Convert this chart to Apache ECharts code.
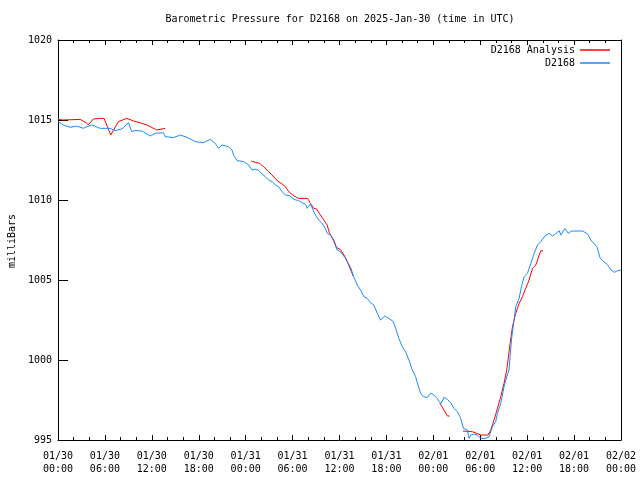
<!DOCTYPE html>
<html>
<head>
<meta charset="utf-8">
<script src="https://cdn.jsdelivr.net/npm/echarts@6/dist/echarts.min.js"></script>
<style>html,body{margin:0;padding:0;background:#fff}#c{width:640px;height:480px}</style>
</head>
<body>
<div id="c"></div>
<script>
// hours since 2025-01-30 00:00 UTC
const xTickLabels = ['01/30\n00:00','01/30\n06:00','01/30\n12:00','01/30\n18:00','01/31\n00:00','01/31\n06:00','01/31\n12:00','01/31\n18:00','02/01\n00:00','02/01\n06:00','02/01\n12:00','02/01\n18:00','02/02\n00:00'];
const yTicks = [995, 1000, 1005, 1010, 1015, 1020];
const seriesNames = ['D2168 Analysis', 'D2168'];

// D2168 Analysis (null = no data)
const analysis = [
[0,1015.04],[0.68,1015.0],[2.82,1015.04],[3.59,1014.83],[3.88,1014.69],[4.52,1015.06],[5.38,1015.1],[5.89,1015.1],[6.75,1014.06],[7.72,1014.9],[8.80,1015.1],[9.65,1014.94],[10.50,1014.83],[11.36,1014.69],[12.64,1014.375],[13.71,1014.48],
[19,null],
[24.72,1012.44],[25.24,1012.35],[25.79,1012.29],[26.30,1012.08],[26.94,1011.77],[27.38,1011.56],[28.02,1011.21],[28.66,1011.0],[29.08,1010.83],[29.50,1010.52],[30.14,1010.27],[30.78,1010.1],[31.94,1010.1],[32.28,1009.79],[32.71,1009.48],[33.05,1009.44],[33.56,1009.06],[33.99,1008.75],[34.42,1008.44],[34.72,1007.92],[35.27,1007.5],[35.61,1007.04],[36.13,1006.9],[36.77,1006.4],[37.75,1005.25],
[43,null],
[48.85,997.29],[49.36,996.875],[49.80,996.5],[50.09,996.5],
[51,null],
[51.79,995.56],[53.0,995.52],[53.20,995.42],[54.06,995.31],[55.0,995.31],[55.34,995.625],[55.77,996.25],[56.20,996.98],[56.62,997.71],[57.04,998.54],[57.39,999.375],[57.82,1001.04],[58.12,1002.08],[58.54,1002.92],[58.97,1003.54],[59.40,1003.96],[59.82,1004.48],[60.25,1005.0],[60.68,1005.73],[61.11,1005.94],[61.54,1006.56],[61.75,1006.83],[62.04,1006.83]
];

// D2168 observed
const observed = [
[0,1014.9],[0.68,1014.69],[1.54,1014.54],[2.4,1014.62],[3.24,1014.48],[3.68,1014.58],[4.32,1014.69],[5.38,1014.48],[6.66,1014.48],[7.30,1014.33],[8.2,1014.45],[9.01,1014.83],[9.44,1014.27],[9.86,1014.35],[10.8,1014.3],[11.79,1014.0],[12.43,1014.17],[13.49,1014.2],[13.71,1013.96],[14.77,1013.9],[15.63,1014.06],[16.49,1013.92],[17.55,1013.65],[18.61,1013.58],[19.47,1013.79],[20.11,1013.54],[20.54,1013.23],[20.97,1013.44],[21.82,1013.33],[22.25,1013.125],[22.46,1012.8],[22.89,1012.46],[23.74,1012.4],[24.38,1012.19],[24.81,1011.875],[25.24,1011.92],[25.66,1011.85],[26.10,1011.625],[26.52,1011.46],[26.94,1011.25],[27.38,1011.15],[27.80,1010.94],[28.22,1010.83],[28.66,1010.52],[29.08,1010.31],[29.72,1010.25],[30.14,1010.04],[30.78,1009.96],[31.22,1009.83],[31.64,1009.75],[31.86,1009.48],[32.28,1009.75],[32.92,1009.06],[33.35,1008.75],[33.78,1008.54],[34.20,1008.23],[34.42,1007.92],[34.85,1007.81],[35.27,1007.4],[35.70,1006.875],[36.13,1006.77],[36.77,1006.35],[37.41,1005.8],[37.83,1005.2],[38.26,1004.69],[38.69,1004.375],[39.11,1003.96],[39.55,1003.85],[39.97,1003.58],[40.39,1003.44],[40.83,1002.92],[41.25,1002.5],[41.80,1002.75],[42.31,1002.6],[42.88,1002.4],[43.17,1002.0],[43.59,1001.35],[44.03,1000.83],[44.45,1000.52],[44.88,1000.0],[45.31,999.375],[45.73,998.96],[46.16,998.23],[46.38,997.92],[46.72,997.71],[47.23,997.65],[47.66,997.92],[48.08,997.81],[48.51,997.6],[48.72,997.4],[49.03,997.29],[49.36,997.67],[49.80,997.54],[50.22,997.33],[50.64,996.98],[51.08,996.77],[51.50,996.35],[51.85,995.73],[52.36,995.625],[52.56,995.1],[52.78,995.3],[53.20,995.375],[53.64,995.31],[54.06,995.1],[54.70,995.1],[55.12,995.2],[55.56,995.83],[55.98,996.15],[56.20,996.67],[56.62,997.29],[56.84,997.81],[57.04,998.33],[57.39,998.96],[57.68,999.375],[57.99,1001.25],[58.32,1002.5],[58.54,1003.33],[58.97,1003.85],[59.27,1004.58],[59.61,1005.2],[60.04,1005.42],[60.47,1006.04],[60.89,1006.67],[61.33,1007.19],[61.75,1007.4],[62.26,1007.75],[62.81,1007.92],[63.25,1007.75],[63.67,1007.9],[64.09,1008.08],[64.31,1007.81],[64.82,1008.23],[65.25,1007.92],[65.68,1008.06],[67.09,1008.06],[67.73,1007.875],[68.15,1007.5],[68.58,1007.25],[68.92,1007.08],[69.35,1006.35],[69.78,1006.15],[70.30,1005.94],[70.71,1005.625],[71.14,1005.48],[71.57,1005.58],[72,1005.625]
];

const FONT = '"DejaVu Sans Mono", "Liberation Mono", monospace';
const RED = '#ff0000', BLUE = '#1a8cff';
const BLACK = {color: '#000', width: 1};

const chart = echarts.init(document.getElementById('c'), null, {renderer: 'canvas'});

// x axes: frame lines + labels, then tick-only axes shifted into the plot so their outward ticks point inward
function xAx(pos, opts) {
  return Object.assign({
    type: 'value', min: 0, max: 72, interval: 6, position: pos,
    axisLine: {show: false}, axisTick: {show: false}, axisLabel: {show: false},
    minorTick: {show: false}, splitLine: {show: false}, minorSplitLine: {show: false}
  }, opts);
}
function yAx(pos, opts) {
  return Object.assign({
    type: 'value', min: yTicks[0], max: yTicks[yTicks.length - 1], interval: 5, position: pos,
    axisLine: {show: false}, axisTick: {show: false}, axisLabel: {show: false},
    splitLine: {show: false}
  }, opts);
}
const xAxes = [
  xAx('bottom', {axisLine: {show: true, onZero: false, lineStyle: BLACK},
    axisLabel: {show: true, margin: 10, fontFamily: FONT, fontSize: 10, color: '#000', lineHeight: 13,
      formatter: v => xTickLabels[Math.round(v / 6)] || ''}}),
  xAx('top', {axisLine: {show: true, onZero: false, lineStyle: BLACK}}),
  xAx('bottom', {offset: -5, axisTick: {show: true, length: 5, lineStyle: BLACK}}),
  xAx('bottom', {offset: -3, minorTick: {show: true, splitNumber: 3, length: 3, lineStyle: BLACK}}),
  xAx('top', {offset: -5, axisTick: {show: true, length: 5, lineStyle: BLACK}}),
  xAx('top', {offset: -3, minorTick: {show: true, splitNumber: 3, length: 3, lineStyle: BLACK}})
];
const yAxes = [
  yAx('left', {axisLine: {show: true, onZero: false, lineStyle: BLACK},
    axisLabel: {show: true, margin: 6, fontFamily: FONT, fontSize: 10, color: '#000', formatter: v => String(v)}}),
  yAx('right', {axisLine: {show: true, onZero: false, lineStyle: BLACK}}),
  yAx('left', {offset: -5, axisTick: {show: true, length: 5, lineStyle: BLACK}}),
  yAx('right', {offset: -5, axisTick: {show: true, length: 5, lineStyle: BLACK}})
];

chart.setOption({
  animation: false,
  backgroundColor: '#fff',
  grid: {left: 58, right: 19, top: 40, bottom: 40, containLabel: false},
  graphic: [
    {type: 'text', x: 340, y: 19, style: {text: 'Barometric Pressure for D2168 on 2025-Jan-30 (time in UTC)', font: '10px ' + FONT, fill: '#000', textAlign: 'center', textVerticalAlign: 'middle'}},
    {type: 'text', x: 12, y: 241, rotation: Math.PI / 2, style: {text: 'milliBars', font: '10px ' + FONT, fill: '#000', textAlign: 'center', textVerticalAlign: 'middle'}}
  ],
  legend: [
    {data: [seriesNames[0]], right: 25, top: 40, orient: 'vertical', align: 'right', icon: 'rect', itemWidth: 30, itemHeight: 1.5,
     textStyle: {fontFamily: FONT, fontSize: 10, color: '#000'}},
    {data: [seriesNames[1]], right: 25, top: 53, orient: 'vertical', align: 'right', icon: 'rect', itemWidth: 30, itemHeight: 1.5,
     textStyle: {fontFamily: FONT, fontSize: 10, color: '#000'}}
  ],
  xAxis: xAxes,
  yAxis: yAxes,
  series: [
    {name: seriesNames[0], type: 'line', xAxisIndex: 0, yAxisIndex: 0,
     data: analysis.map(p => [p[0], p[1] === null ? '-' : p[1]]),
     showSymbol: false, symbol: 'none', connectNulls: false, lineStyle: {color: RED, width: 1}, itemStyle: {color: RED}, clip: true},
    {name: seriesNames[1], type: 'line', xAxisIndex: 0, yAxisIndex: 0, data: observed, showSymbol: false, symbol: 'none',
     lineStyle: {color: BLUE, width: 1}, itemStyle: {color: BLUE}, clip: true}
  ]
});
</script>
</body>
</html>
